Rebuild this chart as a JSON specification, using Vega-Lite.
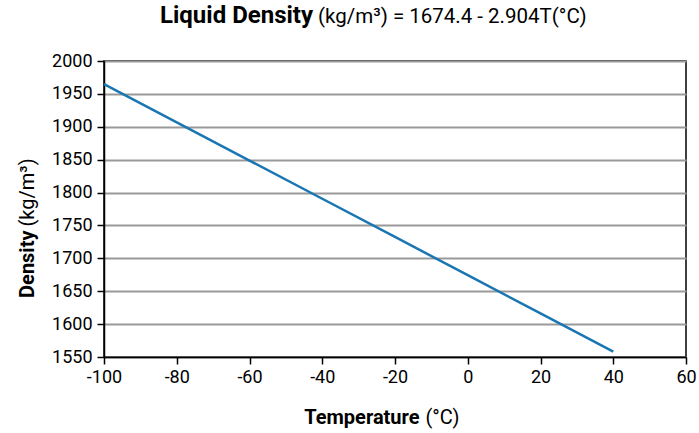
{
  "$schema": "https://vega.github.io/schema/vega-lite/v6.json",
  "width": 582,
  "height": 296,
  "autosize": {"type": "none"},
  "padding": {"left": 104, "top": 61, "right": 13, "bottom": 76},
  "background": "white",
  "title": {
    "text": "Liquid Density",
    "subtitle": "(kg/m³) = 1674.4 - 2.904T(°C)",
    "anchor": "start",
    "frame": "group",
    "font": "Roboto",
    "fontSize": 24,
    "fontWeight": "bold",
    "color": "#000",
    "subtitleFont": "Roboto",
    "subtitleFontSize": 20.5,
    "subtitleFontWeight": "normal",
    "subtitleColor": "#000",
    "subtitlePadding": -21,
    "dx": 214,
    "offset": 24,
    "encoding": {"dx": {"value": 56}}
  },
  "data": {
    "values": [
      {"T": -100, "density": 1964.8},
      {"T": -80, "density": 1906.7},
      {"T": -60, "density": 1848.6},
      {"T": -40, "density": 1790.6},
      {"T": -20, "density": 1732.5},
      {"T": 0, "density": 1674.4},
      {"T": 20, "density": 1616.3},
      {"T": 40, "density": 1558.2}
    ]
  },
  "config": {
    "view": {"stroke": "#000", "strokeWidth": 1.5},
    "axis": {
      "labelFont": "Roboto",
      "labelFontSize": 18,
      "labelColor": "#000",
      "titleFont": "Roboto",
      "titleFontSize": 20,
      "titleColor": "#000",
      "domainColor": "#000",
      "domainWidth": 1.5,
      "tickColor": "#000",
      "tickWidth": 1.5,
      "tickSize": 7
    }
  },
  "resolve": {"axis": {"x": "independent", "y": "independent"}},
  "layer": [
    {
      "mark": {"type": "line", "color": "#1a76b3", "strokeWidth": 2.5},
      "encoding": {
        "x": {
          "field": "T",
          "type": "quantitative",
          "scale": {"domain": [-100, 60], "nice": false, "zero": false},
          "axis": {
            "orient": "bottom",
            "values": [-100, -80, -60, -40, -20, 0, 20, 40, 60],
            "labelExpr": "'' + datum.value",
            "grid": false,
            "labelPadding": 4,
            "labelFlush": false,
            "title": "(°C)",
            "titleFontWeight": "normal",
            "titleAlign": "left",
            "titleBaseline": "alphabetic",
            "titleX": 321,
            "titleY": 66
          }
        },
        "y": {
          "field": "density",
          "type": "quantitative",
          "scale": {"domain": [1550, 2000], "nice": false, "zero": false},
          "axis": {
            "orient": "left",
            "values": [1550, 1600, 1650, 1700, 1750, 1800, 1850, 1900, 1950, 2000],
            "labelExpr": "'' + datum.value",
            "grid": true,
            "gridColor": "#999",
            "gridWidth": 2,
            "labelPadding": 5,
            "labelFlush": false,
            "title": "(kg/m³)",
            "titleFontWeight": "normal",
            "titleAngle": -90,
            "titleAlign": "left",
            "titleBaseline": "alphabetic",
            "titleX": -71,
            "titleY": 165
          }
        }
      }
    },
    {
      "mark": {"type": "line", "opacity": 0},
      "encoding": {
        "x": {
          "field": "T",
          "type": "quantitative",
          "axis": {
            "orient": "bottom",
            "labels": false,
            "ticks": false,
            "domain": false,
            "grid": false,
            "title": "Temperature",
            "titleFontWeight": "bold",
            "titleAlign": "right",
            "titleBaseline": "alphabetic",
            "titleX": 315,
            "titleY": 66
          }
        },
        "y": {
          "field": "density",
          "type": "quantitative",
          "axis": {
            "orient": "left",
            "labels": false,
            "ticks": false,
            "domain": false,
            "grid": false,
            "title": "Density",
            "titleFontWeight": "bold",
            "titleAngle": -90,
            "titleAlign": "right",
            "titleBaseline": "alphabetic",
            "titleX": -71,
            "titleY": 169
          }
        }
      }
    }
  ]
}
